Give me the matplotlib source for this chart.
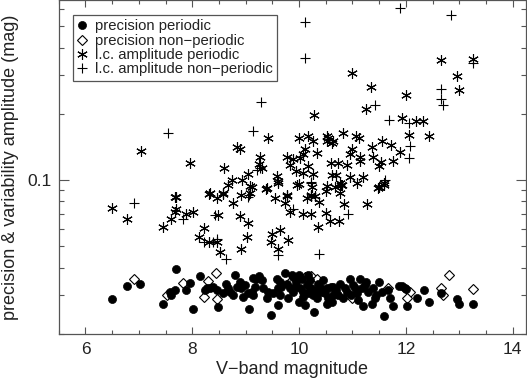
import matplotlib
matplotlib.use('Agg')
import matplotlib.pyplot as plt
from matplotlib.ticker import FixedLocator, NullFormatter, FixedFormatter, MultipleLocator
from matplotlib.lines import Line2D

# ---------------- data ----------------
prec_per_v = [6.49, 6.77, 7.03, 7.46, 7.69, 7.68, 7.61, 7.96, 7.89, 8.01, 8.14, 8.24, 8.33, 8.49, 8.46,
              8.58, 8.64, 8.77, 8.80, 8.89, 8.92, 8.95, 9.05, 9.07, 9.13, 9.17, 9.25, 9.30, 9.39, 9.47,
              9.58, 9.61, 9.61, 9.64, 9.74, 9.77, 9.80, 9.86, 9.89, 9.95, 9.99, 10.02, 10.05, 10.11, 10.14,
              10.17, 10.23, 10.28, 10.33, 10.36, 10.42, 10.45, 10.52, 10.55, 10.59, 10.64, 10.70, 10.77,
              10.82, 10.86, 10.95, 10.98, 11.05, 11.11, 11.14, 11.19, 11.23, 11.30, 11.36, 11.42, 11.50,
              11.55, 11.59, 11.71, 11.76, 11.88, 11.98, 12.03, 12.20, 12.34, 12.44, 12.65, 12.96, 13.00,
              13.25, 8.27, 8.39, 8.71, 8.83, 8.99, 9.11, 9.20, 9.33, 9.42, 9.52, 9.67, 9.83, 9.92, 10.00,
              10.08, 10.20, 10.27, 10.39, 10.48, 10.61, 10.73, 10.89, 11.01, 11.08, 11.17, 11.26, 11.39,
              11.45, 11.67, 11.92, 9.89, 10.17, 9.64, 9.14, 8.67, 10.52, 10.64, 10.33, 10.08, 12.00, 7.58]
prec_per_val = [0.0287, 0.0330, 0.0337, 0.0274, 0.0395, 0.0317, 0.0302, 0.0342, 0.0317, 0.0261, 0.0367,
                0.0317, 0.0322, 0.0265, 0.0317, 0.0306, 0.0339, 0.0300, 0.0370, 0.0345, 0.0322, 0.0295,
                0.0306, 0.0260, 0.0359, 0.0328, 0.0367, 0.0350, 0.0292, 0.0245, 0.0357, 0.0270, 0.0322,
                0.0302, 0.0380, 0.0336, 0.0290, 0.0370, 0.0311, 0.0345, 0.0280, 0.0322, 0.0357, 0.0272,
                0.0333, 0.0306, 0.0322, 0.0253, 0.0290, 0.0339, 0.0311, 0.0350, 0.0275, 0.0292, 0.0328,
                0.0302, 0.0317, 0.0339, 0.0290, 0.0322, 0.0357, 0.0300, 0.0322, 0.0285, 0.0357, 0.0268,
                0.0333, 0.0309, 0.0275, 0.0290, 0.0345, 0.0311, 0.0241, 0.0292, 0.0268, 0.0331, 0.0325,
                0.0268, 0.0292, 0.0317, 0.0280, 0.0306, 0.0287, 0.0275, 0.0273, 0.0322, 0.0328, 0.0311,
                0.0328, 0.0333, 0.0311, 0.0357, 0.0322, 0.0311, 0.0306, 0.0328, 0.0322, 0.0328, 0.0370,
                0.0311, 0.0350, 0.0300, 0.0328, 0.0306, 0.0280, 0.0300, 0.0311, 0.0333, 0.0306, 0.0322,
                0.0345, 0.0322, 0.0300, 0.0317, 0.0330, 0.0363, 0.0370, 0.0345, 0.0300, 0.0322, 0.0322,
                0.0328, 0.0317, 0.0295, 0.0320, 0.0310]

prec_np_v = [6.91, 7.53, 7.83, 8.22, 8.29, 8.44, 8.47, 10.11, 10.23, 10.33, 11.00, 11.67, 12.08, 12.03,
             12.65, 12.70, 12.81, 13.26, 9.83]
prec_np_val = [0.0357, 0.0300, 0.0342, 0.0295, 0.0347, 0.0380, 0.0287, 0.0363, 0.0367, 0.0357, 0.0292,
               0.0322, 0.0311, 0.0290, 0.0322, 0.0300, 0.0370, 0.0320, 0.0345]

amp_per_v = [7.04, 7.96, 8.60, 8.83, 8.89, 9.42, 10.00, 10.17, 10.27, 10.28, 11.00, 11.34, 11.25, 12.01,
             12.65, 13.25, 12.96, 13.00, 11.93, 12.19, 12.33, 12.05, 12.44, 10.83, 11.07, 10.52, 10.61,
             11.55, 11.72, 11.36, 11.89, 11.75, 11.53, 11.00, 10.95, 11.14, 11.14, 11.39, 11.50, 10.59,
             10.73, 10.90, 10.33, 10.11, 10.08, 10.02, 9.77, 9.83, 9.95, 10.17, 10.27, 9.27, 9.25, 9.31,
             9.05, 8.94, 8.75, 10.70, 10.95, 11.20, 11.48, 11.59, 10.52, 10.80, 10.76, 9.97, 9.58, 9.61,
             9.39, 9.08, 9.77, 10.23, 7.68, 8.33, 8.58,
             6.49, 6.77, 7.46, 7.61, 7.68, 7.70, 7.69, 7.89, 8.02, 8.13, 8.22, 8.32, 8.46, 8.51, 8.49,
             8.32, 8.47, 8.58, 8.77, 8.92, 8.89, 9.05, 8.92, 9.03, 9.11, 9.38, 9.55, 9.61, 9.47, 9.50,
             9.64, 9.61, 9.80, 9.77, 9.83, 9.99, 10.08, 10.14, 10.23, 10.22, 10.36, 10.38, 10.50, 10.50,
             10.58, 10.75, 10.84, 10.78, 11.08, 11.28, 11.50, 11.59,
             8.67, 9.08, 9.74, 9.89, 10.08, 10.30, 10.52, 10.67,
             11.13, 10.64, 10.55, 10.61, 10.77, 10.24]
amp_per_val = [0.136, 0.120, 0.114, 0.141, 0.139, 0.155, 0.156, 0.158, 0.151, 0.198, 0.307, 0.264, 0.210,
               0.243, 0.351, 0.355, 0.297, 0.258, 0.191, 0.185, 0.185, 0.160, 0.158, 0.164, 0.159, 0.159,
               0.148, 0.150, 0.145, 0.141, 0.134, 0.122, 0.121, 0.139, 0.131, 0.122, 0.128, 0.128, 0.116,
               0.120, 0.119, 0.117, 0.133, 0.139, 0.131, 0.126, 0.128, 0.117, 0.110, 0.116, 0.107, 0.128,
               0.118, 0.114, 0.107, 0.100, 0.100, 0.105, 0.103, 0.103, 0.092, 0.097, 0.094, 0.095, 0.087,
               0.095, 0.104, 0.099, 0.092, 0.094, 0.085, 0.085, 0.084, 0.087, 0.087,
               0.0751, 0.0669, 0.0610, 0.0663, 0.0718, 0.0736, 0.0834, 0.0705, 0.0713, 0.0553, 0.0603,
               0.0524, 0.0524, 0.0472, 0.0694, 0.0864, 0.0826, 0.0864, 0.0784, 0.0855, 0.0686, 0.0640,
               0.0489, 0.0553, 0.0933, 0.0907, 0.0826, 0.0972, 0.0524, 0.0569, 0.0593, 0.0489, 0.0534,
               0.0855, 0.0718, 0.0959, 0.0705, 0.0826, 0.0855, 0.0705, 0.0614, 0.0797, 0.0710, 0.0894,
               0.0653, 0.0653, 0.0778, 0.0949, 0.0966, 0.0778, 0.0926, 0.0949,
               0.0951, 0.0875, 0.0790, 0.125, 0.108, 0.0844, 0.151, 0.0934,
               0.155, 0.151, 0.155, 0.105, 0.0966, 0.0929]

amp_np_v = [11.89, 12.84, 10.12, 10.12, 9.29, 7.55, 9.14, 11.42, 12.65, 12.65, 12.70, 13.26, 11.69, 12.05,
            12.08, 12.05, 10.23, 9.27, 9.05, 6.91, 7.83, 8.22, 8.39, 8.63, 9.07, 9.61, 9.89, 10.23, 10.38,
            10.92, 8.46, 9.21, 8.43, 11.61]
amp_np_val = [0.603, 0.563, 0.525, 0.357, 0.227, 0.164, 0.168, 0.219, 0.259, 0.233, 0.219, 0.339, 0.188,
              0.181, 0.143, 0.126, 0.098, 0.114, 0.0842, 0.0784, 0.0663, 0.0524, 0.0524, 0.0440, 0.0855,
              0.0456, 0.0743, 0.0966, 0.0461, 0.0705, 0.0543, 0.111, 0.0698, 0.100]

labels = ['precision periodic', 'precision non\u2212periodic',
          'l.c. amplitude periodic', 'l.c. amplitude non\u2212periodic']
x_ticks = [6, 8, 10, 12, 14]
y_major = [0.1]
y_major_labels = ['0.1']
y_minor = [0.02, 0.03, 0.04, 0.05, 0.06, 0.07, 0.08, 0.09, 0.2, 0.3, 0.4, 0.5, 0.6]

# ---------------- figure ----------------
plt.rcParams['font.family'] = ['Liberation Sans', 'DejaVu Sans']
fig = plt.figure(figsize=(5.27, 3.82), dpi=100)
ax = fig.add_axes([58.8 / 527, 48 / 382, 467.2 / 527, 334 / 382])

gray = '#555555'
txt = '#222222'
lw = 0.8

st_diamond = dict(marker='D', ms=4.6, mfc='white', mec='black', mew=lw, ls='none')
st_circle = dict(marker='o', ms=5.8, mfc='black', mec='black', mew=0.5, ls='none')
st_ast = dict(marker=(6, 2, 0), ms=7.6, color='black', mew=lw, ls='none')
st_plus = dict(marker='+', ms=7, color='black', mew=lw, ls='none')

ax.plot(prec_np_v, prec_np_val, **st_diamond)
ax.plot(prec_per_v, prec_per_val, **st_circle)
ax.plot(amp_np_v, amp_np_val, **st_plus)
ax.plot(amp_per_v, amp_per_val, **st_ast)

ax.set_yscale('log')
ax.set_xlim(5.5, 14.25)
ax.set_ylim(0.02, 0.658)

ax.xaxis.set_major_locator(FixedLocator(x_ticks))
ax.xaxis.set_minor_locator(MultipleLocator(0.5))
ax.yaxis.set_major_locator(FixedLocator(y_major))
ax.yaxis.set_major_formatter(FixedFormatter(y_major_labels))
ax.yaxis.set_minor_locator(FixedLocator(y_minor))
ax.yaxis.set_minor_formatter(NullFormatter())

ax.tick_params(axis='both', which='both', direction='in', top=True, right=True,
               color=gray, width=0.8, labelcolor=txt, labelsize=12.5)
ax.tick_params(axis='x', which='major', length=5, pad=6)
ax.tick_params(axis='x', which='minor', length=2.6)
ax.tick_params(axis='y', which='major', length=7.2, pad=5)
ax.tick_params(axis='y', which='minor', length=3.6)

for s in ax.spines.values():
    s.set_color(gray)
    s.set_linewidth(0.9)

ax.set_xlabel('V\u2212band magnitude', fontsize=13, color=txt, labelpad=3)
ax.set_ylabel('precision & variability amplitude (mag)', fontsize=13, color=txt, labelpad=6)

handles = [Line2D([], [], **st_circle), Line2D([], [], **st_diamond),
           Line2D([], [], **st_ast), Line2D([], [], **st_plus)]
leg = ax.legend(handles, labels, loc='upper left', bbox_to_anchor=(0.03, 0.955),
                borderaxespad=0, fontsize=10.7, frameon=True, fancybox=False,
                handlelength=0.7, handletextpad=0.5, labelspacing=0.02, borderpad=0.3)
leg.get_frame().set_edgecolor(gray)
leg.get_frame().set_linewidth(0.9)
leg.get_frame().set_alpha(1)
for t in leg.get_texts():
    t.set_color(txt)

fig.savefig('out.png', dpi=100)
